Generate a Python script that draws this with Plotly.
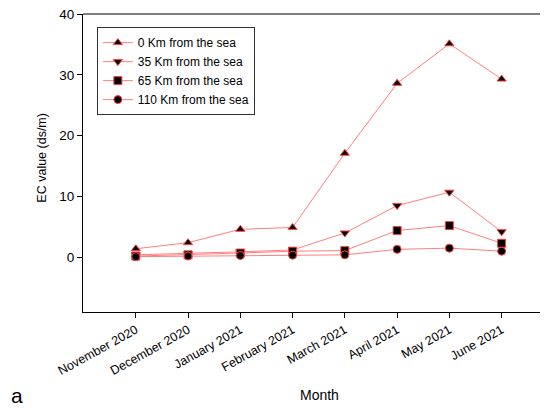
import plotly.graph_objects as go

months = ["November 2020", "December 2020", "January 2021", "February 2021",
          "March 2021", "April 2021", "May 2021", "June 2021"]
series_names = ["0 Km from the sea", "35 Km from the sea", "65 Km from the sea", "110 Km from the sea"]
km0 = [1.4, 2.4, 4.6, 4.9, 17.1, 28.6, 35.1, 29.3]
km35 = [0.4, 0.6, 0.9, 1.2, 4.0, 8.5, 10.7, 4.2]
km65 = [0.2, 0.4, 0.7, 1.0, 1.1, 4.4, 5.2, 2.3]
km110 = [0.1, 0.2, 0.3, 0.35, 0.4, 1.3, 1.5, 1.0]
symbols = ["triangle-up", "triangle-down", "square", "circle"]
values = [km0, km35, km65, km110]

x_idx = list(range(len(months)))
FONT = "Liberation Sans, Arial, sans-serif"

fig = go.Figure()
for name, vals, sym in zip(series_names, values, symbols):
    fig.add_trace(go.Scatter(
        x=x_idx, y=vals, name=name, mode="lines+markers",
        line=dict(color="#ff8080", width=1),
        marker=dict(symbol=sym, size=8, color="black",
                    line=dict(color="#ff4040", width=1)),
    ))

# page body has an 8px default margin, so the figure is 8px smaller
fig.update_layout(
    width=540, height=402,
    margin=dict(l=75, r=3, t=6, b=98, autoexpand=False),
    paper_bgcolor="white", plot_bgcolor="white",
    font=dict(family=FONT, size=11, color="black"),
    showlegend=True,
    legend=dict(x=0.03, y=0.956, xanchor="left", yanchor="top",
                bordercolor="#333", borderwidth=1, bgcolor="white",
                font=dict(size=12, family=FONT), tracegroupgap=0,
                itemwidth=30),
    xaxis=dict(range=[-1.01, 7.83], tickmode="array", tickvals=x_idx, ticktext=months,
               tickangle=-29, ticks="outside", ticklen=5, tickcolor="black", automargin=False,
               showline=True, linecolor="black", linewidth=1, showgrid=False, zeroline=False,
               ticklabeloverflow="allow",
               tickfont=dict(size=12.5, family=FONT)),
    yaxis=dict(range=[-9, 40], tickvals=[0, 10, 20, 30, 40], ticks="outside", ticklen=5,
               tickcolor="black", showline=True, linecolor="black", linewidth=1, automargin=False,
               showgrid=False, zeroline=False, ticklabeloverflow="allow",
               tickfont=dict(size=13.5, family=FONT)),
)
fig.add_shape(type="line", xref="paper", yref="paper", x0=0, x1=1, y0=1, y1=1,
              line=dict(color="black", width=1))
fig.add_annotation(text="Month", xref="paper", yref="paper", x=0.511, y=-0.2785,
                   xanchor="center", yanchor="middle", showarrow=False,
                   font=dict(size=14, family=FONT))
fig.add_annotation(text="EC value (ds/m)", xref="paper", yref="paper", x=-0.0887, y=0.518,
                   xanchor="center", yanchor="middle", showarrow=False, textangle=-90,
                   font=dict(size=12.5, family=FONT))
fig.add_annotation(text="a", xref="paper", yref="paper", x=-0.1418, y=-0.322,
                   xanchor="center", yanchor="bottom", showarrow=False, borderpad=0,
                   font=dict(size=21, family=FONT))
fig.write_html("out.html")
